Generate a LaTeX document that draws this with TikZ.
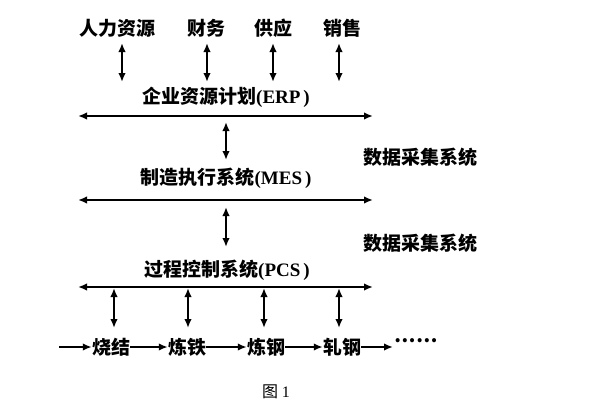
\documentclass[tikz,border=0pt]{standalone}
\usepackage{fontspec}
\setmainfont{Noto Sans CJK SC}
\newfontfamily\latfont{Liberation Serif}
\usepackage{tikz}
\usetikzlibrary{arrows.meta,positioning}

\begin{document}
\begin{tikzpicture}[x=1pt,y=-1pt,
  lab/.style={inner sep=0pt, font=\fontsize{19}{19}\selectfont\bfseries},
  link/.style={line width=1.8pt, {Latex[length=9pt,width=7.5pt]}-{Latex[length=9pt,width=7.5pt]}},
  flow/.style={line width=1.8pt, -{Latex[length=9pt,width=7.5pt]}}]

\useasboundingbox (0,0) rectangle (595,413);

% top row
\node[lab] (hr) at (117,28) {人力资源};
\node[lab] (fin) at (206,28) {财务};
\node[lab] (sup) at (273,28) {供应};
\node[lab] (sale) at (342,28) {销售};
\coordinate (hr1) at (122,43);  \coordinate (hr2) at (122,82);
\coordinate (fin1) at (207,43); \coordinate (fin2) at (207,82);
\coordinate (sup1) at (273,43); \coordinate (sup2) at (273,82);
\coordinate (sale1) at (339,43); \coordinate (sale2) at (339,82);
\path[draw] [link] (hr1) -- (hr2);
\path[draw] [link] (fin1) -- (fin2);
\path[draw] [link] (sup1) -- (sup2);
\path[draw] [link] (sale1) -- (sale2);

% ERP
\node[lab] (erp) at (226,97) {企业资源计划{\latfont(ERP\hspace{3pt})}};
\coordinate (erpL) at (78,116);
\coordinate (erpR) at (373,116);
\path[draw] [link] (erpL) -- (erpR);
\coordinate (e1) at (226,122); \coordinate (e2) at (226,160);
\path[draw] [link] (e1) -- (e2);
\node[lab] (das1) at (420,157) {数据采集系统};

% MES
\node[lab] (mes) at (226,178) {制造执行系统{\latfont(MES\hspace{3pt})}};
\coordinate (mesL) at (78,200);
\coordinate (mesR) at (373,200);
\path[draw] [link] (mesL) -- (mesR);
\coordinate (m1) at (226,207); \coordinate (m2) at (226,247);
\path[draw] [link] (m1) -- (m2);
\node[lab] (das2) at (420,243) {数据采集系统};

% PCS
\node[lab] (pcs) at (227,270) {过程控制系统{\latfont(PCS\hspace{3pt})}};
\coordinate (pcsL) at (78,287);
\coordinate (pcsR) at (373,287);
\path[draw] [link] (pcsL) -- (pcsR);

% plant
\node[lab] (sin) at (111,347) {烧结};
\node[lab] (iron) at (187,347) {炼铁};
\node[lab] (steel) at (266,347) {炼钢};
\node[lab] (roll) at (342,347) {轧钢};
\node[lab] (dots) at (416,341) {……};
\coordinate (p1) at (114,288); \coordinate (p1b) at (114,328);
\coordinate (p2) at (188,288); \coordinate (p2b) at (188,328);
\coordinate (p3) at (264,288); \coordinate (p3b) at (264,328);
\coordinate (p4) at (339,288); \coordinate (p4b) at (339,328);
\path[draw] [link] (p1) -- (p1b);
\path[draw] [link] (p2) -- (p2b);
\path[draw] [link] (p3) -- (p3b);
\path[draw] [link] (p4) -- (p4b);
\coordinate (in) at (59,347);
\coordinate (out) at (393,347);
\path[draw] [flow] (in) -- (sin);
\path[draw] [flow] (sin) -- (iron);
\path[draw] [flow] (iron) -- (steel);
\path[draw] [flow] (steel) -- (roll);
\path[draw] [flow] (roll) -- (out);

\node[inner sep=0pt, font=\fontsize{16}{16}\selectfont] (fig) at (276,392) {图 {\latfont 1}};

\end{tikzpicture}
\end{document}
